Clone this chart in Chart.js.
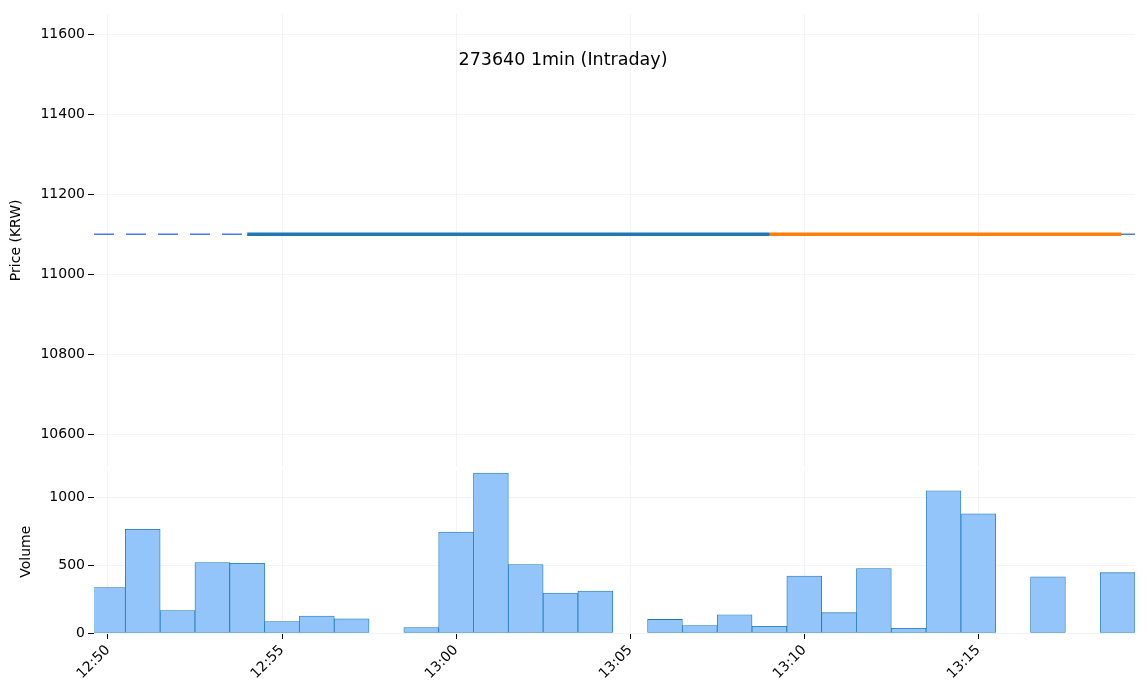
<!DOCTYPE html>
<html><head><meta charset="utf-8">
<script src="https://cdn.jsdelivr.net/npm/chart.js@4"></script>
<style>body{margin:0;background:#fff;width:1146px;height:698px;overflow:hidden}
.w{position:absolute;left:0;width:1146px}</style></head>
<body>
<div class="w" style="top:0;height:478px"><canvas id="p"></canvas></div>
<div class="w" style="top:459px;height:239px"><canvas id="v"></canvas></div>
<script>
// minutes after 12:50
const volMinutes = [0,1,2,3,4,5,6,7,8,9,10,11,12,13,14,15,16,17,18,19,20,21,22,23,24,25,26,27,28,29];
const volumes = [335,765,165,520,515,85,125,105,0,40,745,1180,505,295,310,0,100,55,135,50,420,150,475,35,1050,880,0,415,0,445];
const refLineX = [-0.4,29.6];
const refLineY = [11100,11100];
const blueX = [4,19];
const blueY = [11100,11100];
const orangeX = [19,29.1];
const orangeY = [11100,11100];
const xTicks = [0,5,10,15,20,25];
const xTickLabels = ['12:50','12:55','13:00','13:05','13:10','13:15'];
const title = '273640 1min (Intraday)';

const pts=(xs,ys)=>xs.map((x,i)=>({x,y:ys[i]}));
const font={family:'DejaVu Sans',size:14};
const gridC='#f2f3f7';
const XMIN=-0.4,XMAX=29.5;
function xScale(show){return {type:'linear',min:XMIN,max:XMAX,offset:false,border:{display:false},
  afterBuildTicks:s=>{s.ticks=xTicks.map(v=>({value:v}));},
  grid:{color:gridC,tickColor:show?'#000':'transparent',tickLength:6,offset:false},
  ticks:{display:show,color:'#000',font,minRotation:45,maxRotation:45,autoSkip:false,
    callback:v=>xTickLabels[xTicks.indexOf(v)]},
  afterFit:s=>{ s.height=show?65:0; }};}
const yW=s=>{s.width=94;};
const yTick={color:'#000',font,callback:v=>String(v)};
const titlePlugin={id:'t',afterDraw(c){const ctx=c.ctx;ctx.save();ctx.font='17.5px DejaVu Sans';ctx.fillStyle='#000';ctx.textAlign='center';ctx.textBaseline='middle';ctx.fillText(title,563,60);ctx.restore();}};

new Chart(document.getElementById('p'),{type:'line',
 data:{datasets:[
  {data:pts(blueX,blueY),borderColor:'#1f77b4',borderWidth:3.5,pointRadius:0},
  {data:pts(orangeX,orangeY),borderColor:'#ff7f0e',borderWidth:3.5,pointRadius:0},
  {data:pts(refLineX,refLineY),borderColor:'#4a7fd8',borderWidth:1.5,borderDash:[20,12],pointRadius:0}]},
 options:{animation:false,responsive:true,maintainAspectRatio:false,
  layout:{padding:{top:14,right:11,bottom:0,left:0}},
  plugins:{legend:{display:false},tooltip:{enabled:false}},
  scales:{x:xScale(false),
   y:{min:10520,max:11650,border:{display:false},afterFit:yW,
    afterBuildTicks:s=>{s.ticks=[10600,10800,11000,11200,11400,11600].map(v=>({value:v}));},
    grid:{color:gridC,tickColor:'#000',tickLength:6},
    ticks:yTick,
    title:{display:true,text:'Price (KRW)',color:'#000',font,padding:{top:8,bottom:0}}}}},
 plugins:[titlePlugin]});

new Chart(document.getElementById('v'),{type:'bar',
 data:{datasets:[{data:pts(volMinutes,volumes),backgroundColor:'#93c5fb',borderColor:'#1f77b4',borderWidth:0.8,barPercentage:1,categoryPercentage:1,borderSkipped:false}]},
 options:{animation:false,responsive:true,maintainAspectRatio:false,
  layout:{padding:{top:3,right:11,bottom:0,left:0}},
  plugins:{legend:{display:false},tooltip:{enabled:false}},
  scales:{x:xScale(true),
   y:{min:0,max:1200,border:{display:false},afterFit:yW,
    afterBuildTicks:s=>{s.ticks=[0,500,1000].map(v=>({value:v}));},
    grid:{color:gridC,tickColor:'#000',tickLength:6},
    ticks:yTick,
    title:{display:true,text:'Volume',color:'#000',font,padding:{top:18,bottom:0}}}}}});
</script></body></html>
